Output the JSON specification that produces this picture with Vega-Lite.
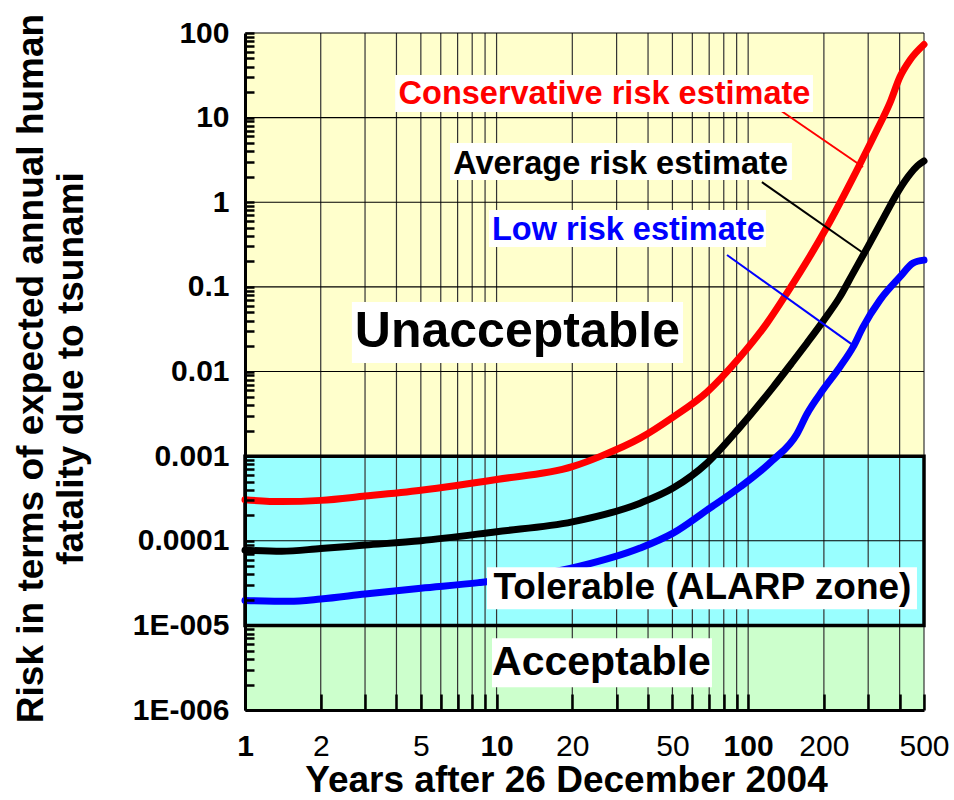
{
  "$schema": "https://vega.github.io/schema/vega-lite/v6.json",
  "width": 679,
  "height": 677,
  "autosize": {"type": "none"},
  "padding": {"left": 245, "top": 33, "right": 30, "bottom": 90},
  "background": "white",
  "config": {"view": {"stroke": null}, "font": "Liberation Sans"},
  "datasets": {
    "zones": [
      {"zone": "Unacceptable", "xa": 1, "xb": 500, "lo": 0.001, "hi": 100},
      {"zone": "Tolerable", "xa": 1, "xb": 500, "lo": 0.00001, "hi": 0.001},
      {"zone": "Acceptable", "xa": 1, "xb": 500, "lo": 0.000001, "hi": 0.00001}
    ],
    "vgrid": [
      {"v": 2}, {"v": 3}, {"v": 4}, {"v": 5}, {"v": 6}, {"v": 7}, {"v": 8}, {"v": 9}, {"v": 10},
      {"v": 20}, {"v": 30}, {"v": 40}, {"v": 50}, {"v": 60}, {"v": 70}, {"v": 80}, {"v": 90}, {"v": 100},
      {"v": 200}, {"v": 300}, {"v": 400}, {"v": 500}
    ],
    "hgrid": [
      {"h": 0.00001}, {"h": 0.0001}, {"h": 0.001}, {"h": 0.01}, {"h": 0.1}, {"h": 1}, {"h": 10}, {"h": 100}
    ],
    "curves": [
      {"series": "Conservative", "t": 1, "risk": 0.000305},
      {"series": "Conservative", "t": 1.4, "risk": 0.00029},
      {"series": "Conservative", "t": 2, "risk": 0.0003},
      {"series": "Conservative", "t": 3, "risk": 0.000337},
      {"series": "Conservative", "t": 5, "risk": 0.000396},
      {"series": "Conservative", "t": 10, "risk": 0.00053},
      {"series": "Conservative", "t": 20, "risk": 0.00075},
      {"series": "Conservative", "t": 26, "risk": 0.001},
      {"series": "Conservative", "t": 37.2, "risk": 0.00163},
      {"series": "Conservative", "t": 50.3, "risk": 0.00289},
      {"series": "Conservative", "t": 68.6, "risk": 0.00571},
      {"series": "Conservative", "t": 92.8, "risk": 0.0148},
      {"series": "Conservative", "t": 118.8, "risk": 0.0373},
      {"series": "Conservative", "t": 142.6, "risk": 0.0845},
      {"series": "Conservative", "t": 205.6, "risk": 0.509},
      {"series": "Conservative", "t": 270.6, "risk": 2.4},
      {"series": "Conservative", "t": 325, "risk": 7.13},
      {"series": "Conservative", "t": 366, "risk": 14.9},
      {"series": "Conservative", "t": 401, "risk": 30.2},
      {"series": "Conservative", "t": 440, "risk": 48},
      {"series": "Conservative", "t": 500, "risk": 73},
      {"series": "Average", "t": 1, "risk": 0.0000774},
      {"series": "Average", "t": 1.4, "risk": 0.000075},
      {"series": "Average", "t": 2, "risk": 0.000081},
      {"series": "Average", "t": 3, "risk": 0.000089},
      {"series": "Average", "t": 5, "risk": 0.0001},
      {"series": "Average", "t": 10, "risk": 0.000128},
      {"series": "Average", "t": 20, "risk": 0.000167},
      {"series": "Average", "t": 37.2, "risk": 0.000278},
      {"series": "Average", "t": 50.3, "risk": 0.000419},
      {"series": "Average", "t": 68.6, "risk": 0.000827},
      {"series": "Average", "t": 92.8, "risk": 0.0022},
      {"series": "Average", "t": 125.5, "risk": 0.0065},
      {"series": "Average", "t": 150, "risk": 0.0129},
      {"series": "Average", "t": 171.3, "risk": 0.0217},
      {"series": "Average", "t": 200, "risk": 0.0405},
      {"series": "Average", "t": 230, "risk": 0.0738},
      {"series": "Average", "t": 260, "risk": 0.1416},
      {"series": "Average", "t": 300, "risk": 0.303},
      {"series": "Average", "t": 350, "risk": 0.706},
      {"series": "Average", "t": 400, "risk": 1.43},
      {"series": "Average", "t": 440, "risk": 2.15},
      {"series": "Average", "t": 470, "risk": 2.68},
      {"series": "Average", "t": 500, "risk": 3.07},
      {"series": "Low", "t": 1, "risk": 0.0000197},
      {"series": "Low", "t": 1.5, "risk": 0.0000193},
      {"series": "Low", "t": 2, "risk": 0.0000205},
      {"series": "Low", "t": 3, "risk": 0.0000235},
      {"series": "Low", "t": 5, "risk": 0.0000275},
      {"series": "Low", "t": 8.5, "risk": 0.000032},
      {"series": "Low", "t": 21.4, "risk": 0.00005},
      {"series": "Low", "t": 37.2, "risk": 0.000082},
      {"series": "Low", "t": 50.3, "risk": 0.000123},
      {"series": "Low", "t": 68.6, "risk": 0.00023},
      {"series": "Low", "t": 92.8, "risk": 0.000431},
      {"series": "Low", "t": 125.5, "risk": 0.000897},
      {"series": "Low", "t": 156.3, "risk": 0.00183},
      {"series": "Low", "t": 171.3, "risk": 0.00315},
      {"series": "Low", "t": 198, "risk": 0.00603},
      {"series": "Low", "t": 231.6, "risk": 0.0113},
      {"series": "Low", "t": 261, "risk": 0.0194},
      {"series": "Low", "t": 286, "risk": 0.0335},
      {"series": "Low", "t": 334, "risk": 0.0698},
      {"series": "Low", "t": 401, "risk": 0.131},
      {"series": "Low", "t": 452, "risk": 0.191},
      {"series": "Low", "t": 500, "risk": 0.207}
    ],
    "leaders": [
      {"series": "Conservative", "xa": 133.7, "ya": 12.3, "xb": 286, "yb": 2.61},
      {"series": "Average", "xa": 113.4, "ya": 1.73, "xb": 283, "yb": 0.258},
      {"series": "Low", "xa": 82.4, "ya": 0.238, "xb": 261, "yb": 0.0205}
    ],
    "boxes": [
      {"xa": 3.95, "xb": 181, "ya": 11.65, "yb": 31.9},
      {"xa": 6.53, "xb": 149.3, "ya": 1.83, "yb": 5.01},
      {"xa": 9.33, "xb": 117.7, "ya": 0.2955, "yb": 0.809},
      {"xa": 2.66, "xb": 55.1, "ya": 0.01257, "yb": 0.0661},
      {"xa": 9.16, "xb": 468.9, "ya": 0.00001554, "yb": 0.0000487},
      {"xa": 9.59, "xb": 71.8, "ya": 0.00000186, "yb": 0.00000706}
    ],
    "estLabels": [
      {"series": "Conservative", "text": "Conservative risk estimate", "tx": 26.85, "ty": 19.0},
      {"series": "Average", "text": "Average risk estimate", "tx": 31.1, "ty": 2.83},
      {"series": "Low", "text": "Low risk estimate", "tx": 33.4, "ty": 0.469}
    ],
    "zoneLabels": [
      {"text": "Unacceptable", "tx": 12.1, "ty": 0.0294},
      {"text": "Tolerable (ALARP zone)", "tx": 65.8, "ty": 0.0000279},
      {"text": "Acceptable", "tx": 26.1, "ty": 0.00000362}
    ]
  },
  "layer": [
    {
      "data": {"name": "zones"},
      "mark": {"type": "rect", "strokeWidth": 0},
      "encoding": {
        "x": {
          "field": "xa", "type": "quantitative",
          "scale": {"type": "log", "domain": [1, 500], "nice": false},
          "axis": {
            "title": "Years after 26 December 2004",
            "values": [1, 2, 3, 4, 5, 6, 7, 8, 9, 10, 20, 30, 40, 50, 60, 70, 80, 90, 100, 200, 300, 400, 500],
            "labelExpr": "indexof([1, 2, 5, 10, 20, 50, 100, 200, 500], datum.value) >= 0 ? '' + datum.value : ''",
            "grid": false,
            "tickSize": -16, "tickWidth": 2.5, "tickColor": "black",
            "domainColor": "black", "domainWidth": 3,
            "labelFont": "Liberation Sans", "labelFontSize": 30, "labelColor": "black",
            "labelFontWeight": {"condition": {"test": "datum.value == 1 || datum.value == 10 || datum.value == 100", "value": "bold"}, "value": "normal"},
            "labelPadding": 37, "labelFlush": false, "labelOverlap": false,
            "titleFont": "Liberation Sans", "titleFontSize": 37, "titleFontWeight": "bold", "titleColor": "black",
            "titleX": 321, "titleY": 81, "titleBaseline": "alphabetic", "titleAlign": "center",
            "zindex": 1
          }
        },
        "x2": {"field": "xb"},
        "y": {
          "field": "lo", "type": "quantitative",
          "scale": {"type": "log", "domain": [0.000001, 100], "nice": false},
          "axis": {
            "title": ["Risk in terms of expected annual human", "fatality due to tsunami"],
            "values": [1e-6, 2e-6, 3e-6, 4e-6, 5e-6, 6e-6, 7e-6, 8e-6, 9e-6,
                       1e-5, 2e-5, 3e-5, 4e-5, 5e-5, 6e-5, 7e-5, 8e-5, 9e-5,
                       1e-4, 2e-4, 3e-4, 4e-4, 5e-4, 6e-4, 7e-4, 8e-4, 9e-4,
                       0.001, 0.002, 0.003, 0.004, 0.005, 0.006, 0.007, 0.008, 0.009,
                       0.01, 0.02, 0.03, 0.04, 0.05, 0.06, 0.07, 0.08, 0.09,
                       0.1, 0.2, 0.3, 0.4, 0.5, 0.6, 0.7, 0.8, 0.9,
                       1, 2, 3, 4, 5, 6, 7, 8, 9,
                       10, 20, 30, 40, 50, 60, 70, 80, 90, 100],
            "labelExpr": "abs(log(datum.value)/LN10 - round(log(datum.value)/LN10)) > 0.01 ? '' : round(log(datum.value)/LN10) == 2 ? '100' : round(log(datum.value)/LN10) == 1 ? '10' : round(log(datum.value)/LN10) == 0 ? '1' : round(log(datum.value)/LN10) == -1 ? '0.1' : round(log(datum.value)/LN10) == -2 ? '0.01' : round(log(datum.value)/LN10) == -3 ? '0.001' : round(log(datum.value)/LN10) == -4 ? '0.0001' : round(log(datum.value)/LN10) == -5 ? '1E-005' : '1E-006'",
            "grid": false,
            "tickSize": -9, "tickWidth": 2.5, "tickColor": "black",
            "domainColor": "black", "domainWidth": 3,
            "labelFont": "Liberation Sans", "labelFontSize": 30, "labelFontWeight": "bold", "labelColor": "black",
            "labelPadding": 25, "labelFlush": false, "labelOverlap": false,
            "titleFont": "Liberation Sans", "titleFontSize": 37, "titleFontWeight": "bold", "titleColor": "black",
            "titleX": -203, "titleY": 335, "titleAngle": -90, "titleAlign": "center", "titleBaseline": "alphabetic", "titleLineHeight": 40,
            "zindex": 1
          }
        },
        "y2": {"field": "hi"},
        "fill": {
          "field": "zone", "type": "nominal", "legend": null,
          "scale": {"domain": ["Unacceptable", "Tolerable", "Acceptable"], "range": ["#FFFFCC", "#99FFFF", "#CCFFCC"]}
        }
      }
    },
    {
      "data": {"name": "vgrid"},
      "mark": {"type": "rule", "color": "#333333", "strokeWidth": 1.2},
      "encoding": {"x": {"field": "v", "type": "quantitative"}}
    },
    {
      "data": {"name": "hgrid"},
      "mark": {"type": "rule", "color": "black", "strokeWidth": 1.2},
      "encoding": {"y": {"field": "h", "type": "quantitative"}}
    },
    {
      "data": {"name": "zones"},
      "transform": [{"filter": "datum.zone == 'Tolerable'"}],
      "mark": {"type": "rect", "fillOpacity": 0, "stroke": "black", "strokeWidth": 3.5},
      "encoding": {
        "x": {"field": "xa", "type": "quantitative"},
        "x2": {"field": "xb"},
        "y": {"field": "lo", "type": "quantitative"},
        "y2": {"field": "hi"}
      }
    },
    {
      "data": {"name": "curves"},
      "mark": {"type": "line", "interpolate": "monotone", "strokeWidth": 7, "strokeCap": "round"},
      "encoding": {
        "x": {"field": "t", "type": "quantitative"},
        "y": {"field": "risk", "type": "quantitative"},
        "color": {
          "field": "series", "type": "nominal", "legend": null,
          "scale": {"domain": ["Conservative", "Average", "Low"], "range": ["#FF0000", "#000000", "#0000FF"]}
        }
      }
    },
    {
      "data": {"name": "leaders"},
      "mark": {"type": "rule", "strokeWidth": 2},
      "encoding": {
        "x": {"field": "xa", "type": "quantitative"},
        "y": {"field": "ya", "type": "quantitative"},
        "x2": {"field": "xb"},
        "y2": {"field": "yb"},
        "color": {"field": "series", "type": "nominal", "legend": null}
      }
    },
    {
      "data": {"name": "boxes"},
      "mark": {"type": "rect", "fill": "white", "strokeWidth": 0},
      "encoding": {
        "x": {"field": "xa", "type": "quantitative"},
        "x2": {"field": "xb"},
        "y": {"field": "ya", "type": "quantitative"},
        "y2": {"field": "yb"}
      }
    },
    {
      "data": {"name": "estLabels"},
      "mark": {"type": "text", "font": "Liberation Sans", "fontWeight": "bold", "fontSize": 32.5, "align": "center", "baseline": "middle"},
      "encoding": {
        "x": {"field": "tx", "type": "quantitative"},
        "y": {"field": "ty", "type": "quantitative"},
        "text": {"field": "text"},
        "color": {"field": "series", "type": "nominal", "legend": null}
      }
    },
    {
      "data": {"name": "zoneLabels"},
      "transform": [{"filter": "datum.text == 'Unacceptable'"}],
      "mark": {"type": "text", "font": "Liberation Sans", "fontWeight": "bold", "fontSize": 50, "align": "center", "baseline": "middle", "color": "black"},
      "encoding": {
        "x": {"field": "tx", "type": "quantitative"},
        "y": {"field": "ty", "type": "quantitative"},
        "text": {"field": "text"}
      }
    },
    {
      "data": {"name": "zoneLabels"},
      "transform": [{"filter": "datum.text == 'Tolerable (ALARP zone)'"}],
      "mark": {"type": "text", "font": "Liberation Sans", "fontWeight": "bold", "fontSize": 37, "align": "center", "baseline": "middle", "color": "black"},
      "encoding": {
        "x": {"field": "tx", "type": "quantitative"},
        "y": {"field": "ty", "type": "quantitative"},
        "text": {"field": "text"}
      }
    },
    {
      "data": {"name": "zoneLabels"},
      "transform": [{"filter": "datum.text == 'Acceptable'"}],
      "mark": {"type": "text", "font": "Liberation Sans", "fontWeight": "bold", "fontSize": 41, "align": "center", "baseline": "middle", "color": "black"},
      "encoding": {
        "x": {"field": "tx", "type": "quantitative"},
        "y": {"field": "ty", "type": "quantitative"},
        "text": {"field": "text"}
      }
    }
  ]
}
